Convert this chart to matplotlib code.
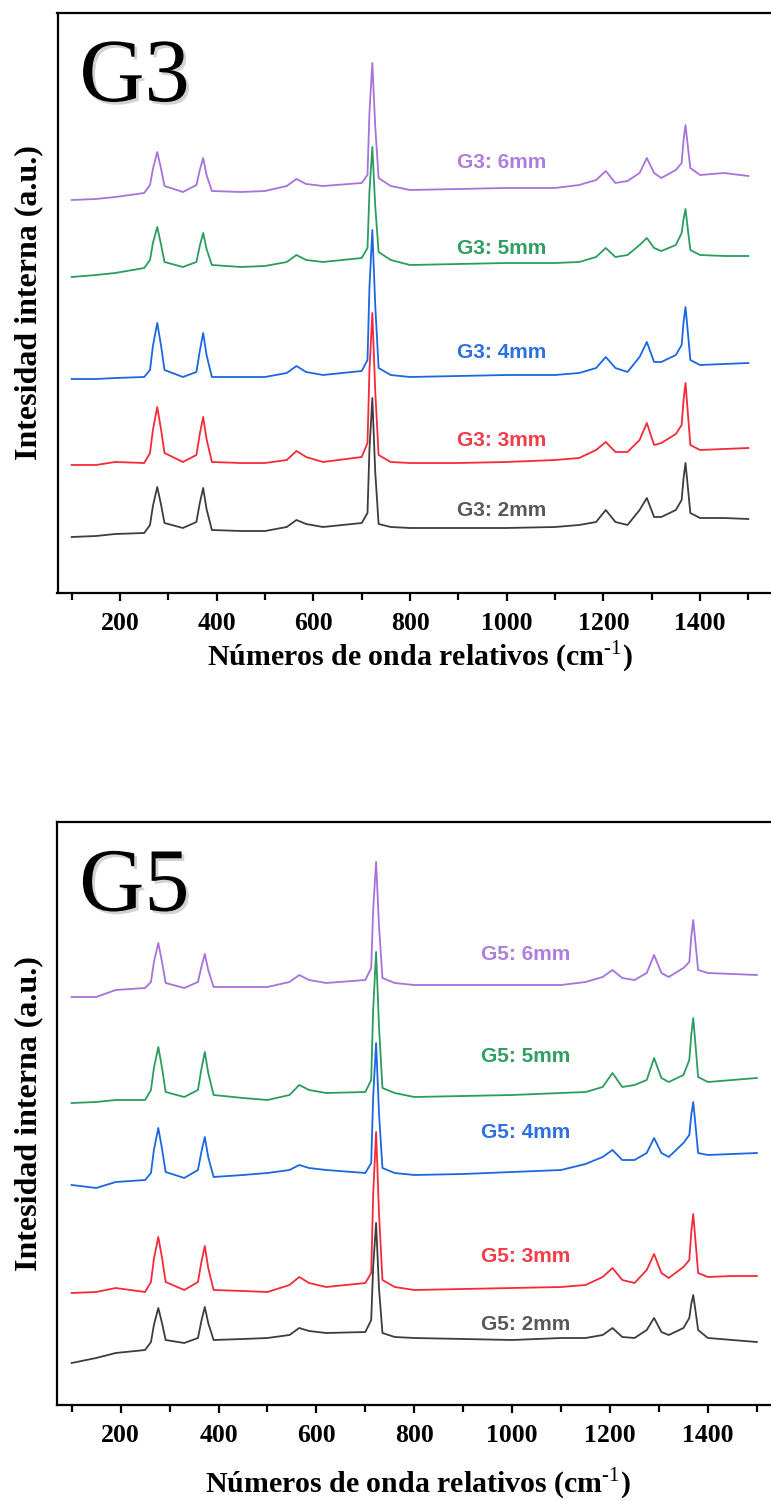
"""Raman spectra of G3 and G5 samples at several thicknesses (stacked)."""
import matplotlib
matplotlib.use("Agg")
import matplotlib.pyplot as plt
import matplotlib.patheffects as pe
from matplotlib.ticker import MultipleLocator

wavenumber = [100, 150, 190, 250, 262, 268, 277, 285, 292, 330, 358, 365, 372,
              379, 390, 450, 500, 545, 565, 585, 620, 700, 712, 716, 722, 728,
              735, 760, 800, 900, 1000, 1100, 1150, 1185, 1205, 1225, 1250,
              1275, 1290, 1305, 1320, 1350, 1362, 1366, 1370, 1375, 1380,
              1400, 1450, 1500]

# G3 panel, intensities (a.u., already stacked)
g3_6mm = [393, 394, 396, 400, 408, 424, 441, 424, 407, 401, 408, 423, 435,
          418, 402, 401, 402, 407, 414, 409, 407, 410, 418, 480, 530, 467,
          415, 407, 403, 404, 405, 405, 408, 413, 422, 410, 412, 420, 435,
          420, 415, 423, 430, 453, 468, 446, 425, 418, 420, 417]
g3_5mm = [316, 318, 320, 325, 333, 350, 366, 348, 331, 326, 331, 347, 360,
          344, 328, 326, 327, 331, 338, 333, 331, 335, 345, 401, 446, 387,
          341, 333, 328, 329, 330, 330, 331, 336, 345, 336, 338, 348, 355,
          345, 342, 348, 360, 374, 384, 363, 343, 338, 337, 337]
g3_4mm = [214, 214, 215, 216, 223, 247, 270, 247, 223, 216, 221, 242, 260,
          238, 216, 216, 216, 220, 227, 221, 218, 222, 233, 305, 363, 288,
          225, 218, 216, 217, 218, 218, 220, 225, 236, 225, 221, 236, 251,
          231, 231, 238, 248, 271, 286, 260, 233, 228, 229, 230]
g3_3mm = [128, 128, 131, 130, 140, 163, 186, 163, 140, 131, 138, 159, 176,
          154, 131, 130, 130, 133, 142, 136, 131, 136, 150, 222, 280, 202,
          138, 131, 130, 130, 131, 133, 135, 143, 151, 141, 141, 153, 170,
          148, 150, 159, 168, 193, 210, 179, 148, 143, 144, 145]
g3_2mm = [56, 57, 59, 60, 68, 87, 106, 88, 70, 65, 71, 90, 105,
          84, 63, 62, 62, 66, 73, 69, 66, 70, 80, 143, 195, 121,
          69, 66, 65, 65, 65, 66, 68, 71, 83, 71, 68, 83, 95,
          76, 76, 83, 93, 115, 130, 105, 80, 75, 75, 74]

# G5 panel
g5_6mm = [408, 408, 415, 417, 423, 443, 462, 442, 422, 417, 423, 438, 451,
          435, 418, 418, 418, 423, 430, 425, 422, 425, 437, 495, 543, 479,
          427, 422, 420, 420, 420, 420, 423, 428, 435, 427, 425, 432, 450,
          432, 428, 437, 443, 468, 485, 460, 435, 432, 431, 430]
g5_5mm = [302, 303, 305, 305, 315, 337, 358, 336, 313, 308, 315, 336, 353,
          332, 310, 307, 305, 310, 320, 315, 312, 313, 325, 395, 453, 378,
          317, 312, 308, 309, 310, 312, 313, 318, 332, 318, 320, 325, 347,
          327, 323, 330, 345, 370, 387, 358, 328, 323, 325, 327]
g5_4mm = [220, 217, 223, 225, 232, 255, 277, 255, 233, 227, 235, 253, 268,
          248, 228, 230, 232, 235, 240, 237, 235, 232, 242, 308, 362, 291,
          237, 232, 230, 231, 233, 235, 241, 248, 255, 245, 245, 252, 267,
          252, 248, 262, 270, 290, 303, 278, 252, 250, 251, 252]
g5_3mm = [112, 113, 117, 113, 123, 146, 168, 146, 123, 115, 123, 143, 159,
          137, 115, 114, 113, 120, 128, 122, 118, 122, 132, 210, 273, 191,
          125, 118, 115, 116, 117, 118, 120, 128, 137, 125, 122, 135, 151,
          132, 127, 138, 145, 173, 191, 162, 132, 128, 129, 129]
g5_2mm = [42, 47, 52, 55, 63, 80, 97, 81, 65, 62, 67, 84, 98,
          82, 65, 66, 67, 70, 77, 74, 72, 73, 85, 138, 182, 116,
          72, 68, 67, 66, 65, 67, 67, 70, 77, 68, 67, 75, 87,
          73, 70, 77, 87, 101, 110, 93, 75, 67, 65, 63]

thickness = ["6mm", "5mm", "4mm", "3mm", "2mm"]
g3_label_y = [430, 345, 240, 153, 83]
g5_label_y = [450, 348, 272, 148, 80]

line_colors = ["#a772dc", "#2a9d5e", "#1c66e2", "#f42a38", "#3d3d3d"]
text_colors = ["#ad7fdc", "#2f9e63", "#2d70e2", "#f23c47", "#585858"]

SERIF = "Liberation Serif"
SANS = "Liberation Sans"


def draw_panel(ax, name, spectra, label_y, label_x, xlim, ylim, xlab_pos):
    """Draw one stacked-spectra panel."""
    for spec, col in zip(spectra, line_colors):
        ax.plot(wavenumber, spec, color=col, linewidth=1.3)
    for lab, y, col in zip(thickness, label_y, text_colors):
        ax.text(label_x, y, f"{name}: {lab}", color=col, fontsize=15,
                fontweight="bold", family=SANS, ha="center", va="center")

    ax.text(0.03, 0.848, name, transform=ax.transAxes, fontsize=65,
            family=SERIF, color="black", ha="left", va="baseline",
            path_effects=[pe.withSimplePatchShadow(offset=(2, -2),
                                                   shadow_rgbFace="gray",
                                                   alpha=0.35)])
    ax.set_xlim(*xlim)
    ax.set_ylim(*ylim)
    ax.set_yticks([])
    ax.xaxis.set_major_locator(MultipleLocator(200))
    ax.xaxis.set_minor_locator(MultipleLocator(100))
    ax.tick_params(axis="x", which="major", direction="out", length=6,
                   width=1.6, pad=8, labelsize=18.5)
    ax.tick_params(axis="x", which="minor", direction="out", length=5,
                   width=1.6)
    for lbl in ax.get_xticklabels():
        lbl.set_fontfamily(SERIF)
        lbl.set_fontweight("bold")
    for sp in ax.spines.values():
        sp.set_linewidth(1.6)
    ax.set_xlabel("Números de onda relativos (cm$^{\\mathbf{\u2010}1}$)",
                  family=SERIF, fontweight="bold", fontsize=21.5)
    ax.xaxis.set_label_coords(*xlab_pos)
    ax.set_ylabel("Intesidad interna (a.u.)", family=SERIF,
                  fontweight="bold", fontsize=23, labelpad=10)


plt.rcParams["mathtext.fontset"] = "custom"
plt.rcParams["mathtext.rm"] = SERIF
plt.rcParams["mathtext.bf"] = SERIF + ":bold"

fig = plt.figure(figsize=(7.71, 15.01), dpi=100)
W, H = 771.0, 1501.0

# top panel: frame x 57.5 -> 787 px (right side cut off), y 13 -> 593 px
ax1 = fig.add_axes([57.5 / W, 1 - 593 / H, (787 - 57.5) / W, 580 / H])
draw_panel(ax1, "G3", [g3_6mm, g3_5mm, g3_4mm, g3_3mm, g3_2mm],
           g3_label_y, 990, (70.6, 1580), (0, 580), (0.497, -0.079))

# bottom panel: frame x 57 -> 796 px, y 822 -> 1405 px
ax2 = fig.add_axes([57 / W, 1 - 1405 / H, (796 - 57) / W, 583 / H])
draw_panel(ax2, "G5", [g5_6mm, g5_5mm, g5_4mm, g5_3mm, g5_2mm],
           g5_label_y, 1027, (70.0, 1580), (0, 583), (0.489, -0.104))

fig.savefig("out.png", dpi=100)
